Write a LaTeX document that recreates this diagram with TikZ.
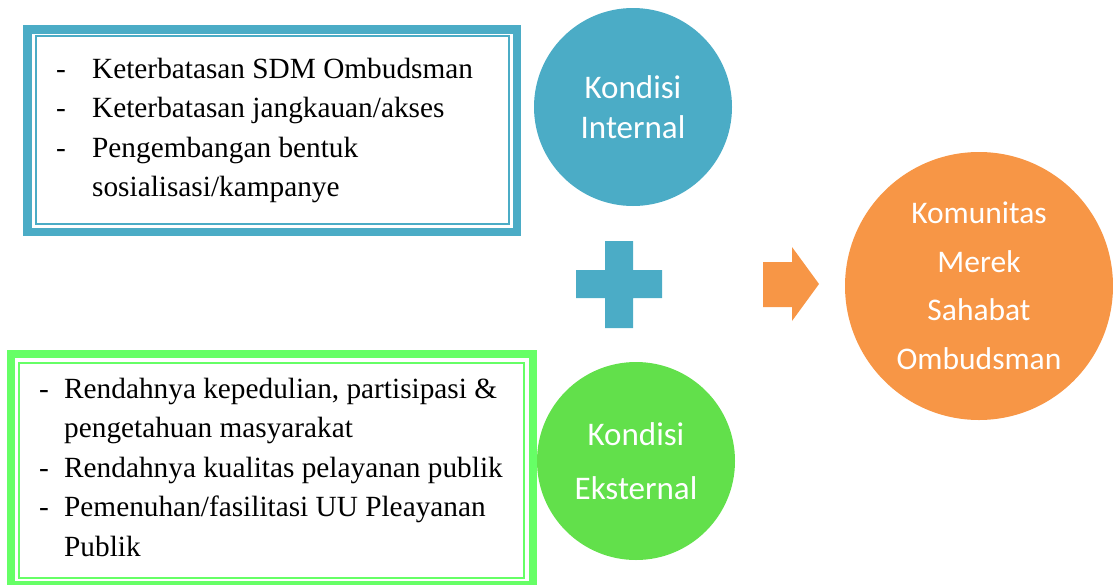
\documentclass[tikz,border=0pt]{standalone}
\usepackage{fontspec}
\setmainfont{Liberation Serif}
\newfontfamily\circlefont{Carlito}
\usepackage{array}
\definecolor{ombBlue}{HTML}{4BACC6}
\definecolor{ombGreen}{HTML}{66FF66}
\definecolor{ombGreenDark}{HTML}{62E04B}
\definecolor{ombOrange}{HTML}{F79646}
\newcommand{\listfont}{\fontsize{29.3}{39.5}\selectfont}
\begin{document}
\begin{tikzpicture}[x=1pt,y=-1pt,
  bubble/.style={circle,inner sep=0pt,text=white,align=center},
  listtext/.style={inner sep=0pt,anchor=base west,font=\listfont}]
\useasboundingbox (0,0) rectangle (1113,584);

% kotak kondisi internal
\draw[ombBlue,line width=8.5] (27.25,29.25) rectangle (516.75,231.75);
\draw[ombBlue,line width=2] (35.5,35.5) rectangle (509,224);
\node[listtext] (internalList) at (56,78) {\begin{tabular}[t]{@{}p{36pt}@{}l@{}}
- & Keterbatasan SDM Ombudsman\\
- & Keterbatasan jangkauan/akses\\
- & Pengembangan bentuk\\
  & sosialisasi/kampanye
\end{tabular}};

% kotak kondisi eksternal
\draw[ombGreen,line width=8] (11,354) rectangle (533,585);
\draw[ombGreen,line width=2] (19,362.5) rectangle (524,577.5);
\node[listtext] (eksternalList) at (39,398) {\begin{tabular}[t]{@{}p{25pt}@{}l@{}}
- & Rendahnya kepedulian, partisipasi \&\\
  & pengetahuan masyarakat\\
- & Rendahnya kualitas pelayanan publik\\
- & Pemenuhan/fasilitasi UU Pleayanan\\
  & Publik
\end{tabular}};

% lingkaran
\node[bubble,fill=ombBlue,minimum size=198,
  font=\circlefont\fontsize{33}{39.5}\selectfont] (internal) at (633,107) {Kondisi\\Internal};
\node[bubble,fill=ombGreenDark,minimum size=198,
  font=\circlefont\fontsize{33}{54}\selectfont] (eksternal) at (636,461) {Kondisi\\Eksternal};
\node[bubble,fill=ombOrange,minimum size=268,
  font=\circlefont\fontsize{31.5}{48.5}\selectfont] (komunitas) at (979,286) {Komunitas\\Merek\\Sahabat\\Ombudsman};

% tanda tambah
\fill[ombBlue] (605,241) -- (633,241) -- (633,270) -- (662,270) -- (662,298) -- (633,298)
  -- (633,328) -- (605,328) -- (605,298) -- (576,298) -- (576,270) -- (605,270) -- cycle;

% panah
\fill[ombOrange] (763,262) -- (792,262) -- (792,247) -- (819,284) -- (792,321)
  -- (792,307) -- (763,307) -- cycle;

\end{tikzpicture}
\end{document}
